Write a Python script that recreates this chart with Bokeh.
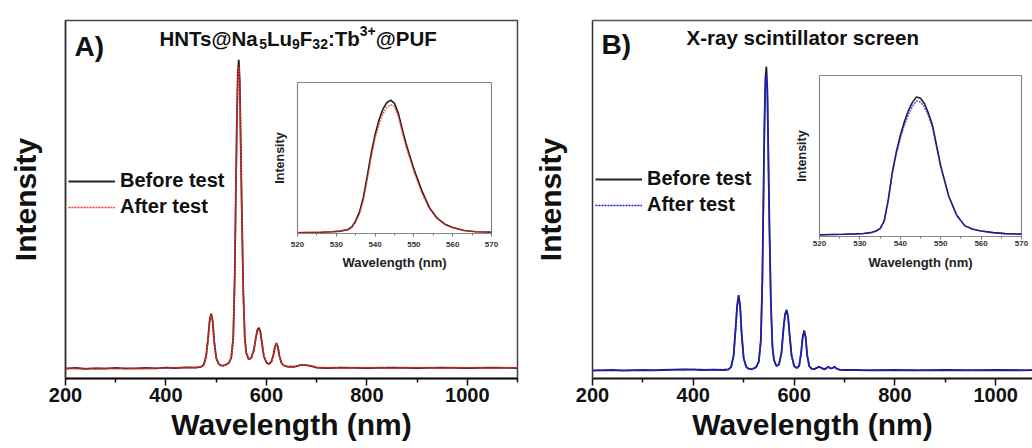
from bokeh.plotting import figure
from bokeh.models import Range1d, Legend, LegendItem, Label, LinearAxis, FixedTicker
from bokeh.layouts import row
from bokeh.embed import file_html
from bokeh.resources import INLINE

FONT = "Liberation Sans"

# ---------------- data (normalised intensity) ----------------
wavelength = [200, 220, 240, 260, 280, 300, 320, 340, 360, 380, 400, 420, 440, 460, 470, 475,
              480, 484, 487, 490, 493, 496, 500, 505, 510, 515, 520, 525, 530, 534, 537, 539,
              541, 543, 545, 547, 549, 551, 554, 557, 560, 565, 570, 575, 579, 582, 585, 588,
              591, 595, 600, 605, 610, 614, 617, 620, 623, 626, 630, 635, 640, 645, 650, 655,
              660, 665, 668, 672, 676, 680, 684, 690, 700, 720, 750, 800, 850, 900, 950, 1000,
              1050, 1100]

before_A = [0.000, 0.002, -0.001, 0.001, 0.000, 0.002, 0.000, 0.001, 0.002, 0.001, 0.003, 0.002,
            0.004, 0.003, 0.006, 0.012, 0.040, 0.100, 0.155, 0.178, 0.155, 0.090, 0.035, 0.015,
            0.010, 0.010, 0.013, 0.018, 0.035, 0.100, 0.300, 0.550, 0.780, 0.950, 1.000, 0.930,
            0.720, 0.520, 0.250, 0.100, 0.050, 0.030, 0.035, 0.060, 0.100, 0.125, 0.132, 0.120,
            0.085, 0.040, 0.020, 0.015, 0.022, 0.045, 0.070, 0.083, 0.070, 0.040, 0.018, 0.010,
            0.007, 0.006, 0.006, 0.006, 0.008, 0.010, 0.012, 0.012, 0.012, 0.011, 0.010, 0.008,
            0.003, 0.002, 0.003, 0.002, 0.003, 0.002, 0.003, 0.002, 0.003, 0.002]
after_A = [0.001, 0.001, 0.000, 0.002, 0.001, 0.001, 0.002, 0.000, 0.001, 0.002, 0.002, 0.003,
           0.003, 0.004, 0.006, 0.011, 0.038, 0.098, 0.152, 0.175, 0.152, 0.088, 0.034, 0.015,
           0.010, 0.010, 0.013, 0.018, 0.034, 0.098, 0.292, 0.535, 0.760, 0.930, 0.978, 0.910,
           0.705, 0.510, 0.245, 0.098, 0.050, 0.030, 0.034, 0.058, 0.098, 0.122, 0.128, 0.117,
           0.083, 0.040, 0.020, 0.015, 0.022, 0.044, 0.068, 0.081, 0.068, 0.039, 0.018, 0.010,
           0.007, 0.006, 0.006, 0.006, 0.008, 0.010, 0.012, 0.012, 0.012, 0.011, 0.010, 0.008,
           0.004, 0.003, 0.002, 0.003, 0.002, 0.003, 0.002, 0.003, 0.002, 0.003]

before_B = [0.000, 0.001, 0.002, 0.000, 0.001, 0.002, 0.001, 0.002, 0.003, 0.004, 0.003, 0.002,
            0.003, 0.002, 0.004, 0.012, 0.050, 0.140, 0.215, 0.248, 0.210, 0.120, 0.040, 0.012,
            0.006, 0.005, 0.007, 0.012, 0.030, 0.100, 0.300, 0.550, 0.800, 0.960, 1.000, 0.920,
            0.700, 0.480, 0.220, 0.080, 0.035, 0.015, 0.020, 0.060, 0.140, 0.185, 0.200, 0.180,
            0.120, 0.050, 0.015, 0.008, 0.015, 0.060, 0.110, 0.132, 0.110, 0.050, 0.015, 0.006,
            0.005, 0.009, 0.013, 0.008, 0.004, 0.009, 0.013, 0.007, 0.008, 0.013, 0.007, 0.003,
            0.002, 0.002, 0.001, 0.002, 0.001, 0.002, 0.001, 0.002, 0.001, 0.002]
after_B = [0.001, 0.002, 0.001, 0.001, 0.002, 0.001, 0.002, 0.001, 0.002, 0.003, 0.004, 0.003,
           0.002, 0.003, 0.004, 0.011, 0.048, 0.137, 0.211, 0.244, 0.206, 0.118, 0.039, 0.012,
           0.006, 0.005, 0.007, 0.012, 0.029, 0.097, 0.292, 0.535, 0.778, 0.935, 0.972, 0.895,
           0.682, 0.468, 0.215, 0.078, 0.035, 0.015, 0.020, 0.058, 0.137, 0.181, 0.196, 0.176,
           0.118, 0.049, 0.015, 0.008, 0.015, 0.059, 0.108, 0.129, 0.108, 0.049, 0.015, 0.006,
           0.005, 0.009, 0.012, 0.008, 0.004, 0.009, 0.012, 0.007, 0.008, 0.012, 0.007, 0.003,
           0.002, 0.001, 0.002, 0.001, 0.002, 0.001, 0.002, 0.001, 0.002, 0.001]

inset_wavelength = [520, 523, 526, 529, 531, 533, 534, 535, 536, 537, 538, 539, 540, 541, 542,
                    543, 544, 545, 546, 547, 548, 550, 552, 554, 556, 558, 560, 563, 566, 570]
inset_before_A = [0.000, 0.002, 0.004, 0.008, 0.013, 0.025, 0.045, 0.090, 0.160, 0.270, 0.430,
                  0.600, 0.740, 0.850, 0.930, 0.980, 1.000, 0.975, 0.900, 0.780, 0.670, 0.480,
                  0.320, 0.190, 0.110, 0.065, 0.040, 0.018, 0.008, 0.005]
inset_after_A = [0.002, 0.003, 0.005, 0.008, 0.012, 0.022, 0.040, 0.080, 0.145, 0.250, 0.405,
                 0.570, 0.710, 0.815, 0.895, 0.945, 0.965, 0.950, 0.875, 0.755, 0.645, 0.460,
                 0.305, 0.180, 0.105, 0.062, 0.038, 0.017, 0.008, 0.006]
inset_before_B = [0.000, 0.002, 0.004, 0.007, 0.010, 0.018, 0.028, 0.045, 0.100, 0.250, 0.450,
                  0.600, 0.720, 0.820, 0.900, 0.960, 1.000, 0.990, 0.950, 0.880, 0.790, 0.500,
                  0.280, 0.140, 0.065, 0.040, 0.028, 0.016, 0.009, 0.005]
inset_after_B = [0.001, 0.002, 0.004, 0.007, 0.010, 0.018, 0.028, 0.045, 0.098, 0.245, 0.440,
                 0.585, 0.700, 0.795, 0.872, 0.930, 0.970, 0.962, 0.925, 0.860, 0.772, 0.492,
                 0.276, 0.138, 0.064, 0.040, 0.028, 0.016, 0.009, 0.005]

main_ticks = [200, 400, 600, 800, 1000]
main_minor_ticks = [300, 500, 700, 900, 1100]
inset_ticks = [520, 530, 540, 550, 560, 570]
inset_minor_ticks = [525, 535, 545, 555, 565]

legend_labels = ["Before test", "After test"]

# Arial/Liberation Sans Bold advance widths (per 1000 em) for the title pieces
W = {"H": 722, "N": 722, "T": 611, "s": 556, "@": 975, "a": 556, "L": 611, "u": 611, "F": 611,
     ":": 333, "b": 611, "P": 667, "U": 722, "+": 584}
for d in "0123456789":
    W[d] = 556


def text_w(t, size):
    return sum(W.get(c, 600) for c in t) * size / 1000.0


def main_fig(width, xend, yr, left, right, top, ylab_standoff):
    p = figure(width=width, height=448, x_range=Range1d(200, xend), y_range=Range1d(*yr),
               output_backend="svg", toolbar_location=None, min_border_left=left,
               min_border_right=right, min_border_top=top, min_border_bottom=70)
    p.title.visible = False
    p.grid.visible = False
    p.background_fill_color = "white"
    p.border_fill_color = "white"
    xa = p.xaxis[0]
    xa.ticker = FixedTicker(ticks=main_ticks, minor_ticks=main_minor_ticks)
    xa.major_tick_out = 7
    xa.major_tick_in = 0
    xa.minor_tick_out = 4
    xa.minor_tick_in = 0
    xa.axis_line_width = 2
    xa.axis_line_color = "#111"
    xa.major_tick_line_width = 1.5
    xa.minor_tick_line_width = 1.5
    xa.major_tick_line_color = "#111"
    xa.minor_tick_line_color = "#111"
    xa.major_label_text_font = FONT
    xa.major_label_text_font_size = "20px"
    xa.major_label_text_font_style = "bold"
    xa.major_label_text_color = "#111"
    xa.major_label_standoff = 2
    xa.axis_label = "Wavelength (nm)"
    xa.axis_label_text_font = FONT
    xa.axis_label_text_font_size = "30px"
    xa.axis_label_text_font_style = "bold"
    xa.axis_label_text_color = "#111"
    xa.axis_label_standoff = 3
    ya = p.yaxis[0]
    ya.ticker = FixedTicker(ticks=[])
    ya.major_tick_out = 0
    ya.major_tick_in = 0
    ya.minor_tick_out = 0
    ya.minor_tick_in = 0
    ya.major_label_text_font_size = "0px"
    ya.axis_line_width = 1.5
    ya.axis_line_color = "#333"
    ya.axis_label = "Intensity"
    ya.axis_label_text_font = FONT
    ya.axis_label_text_font_size = "30px"
    ya.axis_label_text_font_style = "bold"
    ya.axis_label_text_color = "#111"
    ya.axis_label_standoff = ylab_standoff
    return p


def add_text(p, x, y, t, size, color="#111"):
    p.add_layout(Label(x=x, y=y, x_units="screen", y_units="screen", text=t, text_font=FONT,
                       text_font_size=f"{size}px", text_font_style="bold", text_color=color,
                       text_baseline="alphabetic", text_align="left"))


def add_legend(p, r1, r2, x, y):
    leg = Legend(items=[LegendItem(label=legend_labels[0], renderers=[r1]),
                        LegendItem(label=legend_labels[1], renderers=[r2])],
                 location=(x, y), padding=0, margin=0, spacing=3, glyph_width=47,
                 glyph_height=20, label_height=20, label_standoff=5,
                 label_text_font=FONT, label_text_font_size="20px",
                 label_text_font_style="bold", label_text_color="#111",
                 border_line_color=None, background_fill_alpha=0)
    p.add_layout(leg)


def inset_fig(fw, fh, yr, frame_left, frame_top, label_standoff, lab_standoff):
    p = figure(frame_width=fw, frame_height=fh, x_range=Range1d(520, 570),
               y_range=Range1d(*yr), output_backend="svg", toolbar_location=None,
               min_border_left=30, min_border_right=10, min_border_top=20, min_border_bottom=60,
               styles={"position": "absolute", "left": f"{frame_left - 30}px",
                       "top": f"{frame_top - 20}px"})
    p.title.visible = False
    p.grid.visible = False
    p.border_fill_alpha = 0
    p.background_fill_alpha = 0
    p.outline_line_color = "#888"
    p.outline_line_width = 1.2
    xa = p.xaxis[0]
    xa.ticker = FixedTicker(ticks=inset_ticks, minor_ticks=inset_minor_ticks)
    xa.major_tick_out = 3
    xa.major_tick_in = 0
    xa.minor_tick_out = 2
    xa.minor_tick_in = 0
    xa.axis_line_color = "#888"
    xa.major_tick_line_color = "#777"
    xa.minor_tick_line_color = "#777"
    xa.major_label_text_font = FONT
    xa.major_label_text_font_size = "8px"
    xa.major_label_text_font_style = "bold"
    xa.major_label_text_color = "#333"
    xa.major_label_standoff = label_standoff
    xa.axis_label = "Wavelength (nm)"
    xa.axis_label_text_font = FONT
    xa.axis_label_text_font_size = "13px"
    xa.axis_label_text_font_style = "bold"
    xa.axis_label_text_color = "#222"
    xa.axis_label_standoff = lab_standoff
    ya = p.yaxis[0]
    ya.ticker = FixedTicker(ticks=[])
    ya.major_tick_out = 0
    ya.minor_tick_out = 0
    ya.major_label_text_font_size = "0px"
    ya.axis_line_color = "#888"
    ya.axis_label = "Intensity"
    ya.axis_label_text_font = FONT
    ya.axis_label_text_font_size = "12.5px"
    ya.axis_label_text_font_style = "bold"
    ya.axis_label_text_color = "#222"
    ya.axis_label_standoff = 11
    return p


BLACK = "#222222"
RED = "#ff2a2a"
BLUE = "#1c1cff"

# ---------------- panel A ----------------
pA = main_fig(520, 1100, (-0.032, 1.127), 65, 3, 14, 24)
pA.outline_line_color = "#444"
pA.outline_line_width = 1.5
rA1 = pA.line(wavelength, before_A, line_color=BLACK, line_width=1.8)
rA2 = pA.line(wavelength, after_A, line_color=RED, line_width=1.6, line_dash="2 1")
add_legend(pA, rA1, rA2, 3, 160)
add_text(pA, 9, 332, "A)", 28)
title_pieces = [("HNTs@Na", "n"), ("5", "sub"), ("Lu", "n"), ("9", "sub"), ("F", "n"),
                ("32", "sub"), (":Tb", "n"), ("3+", "sup"), ("@PUF", "n")]
x = 94.0
for t, kind in title_pieces:
    size = 20.5 if kind == "n" else 14
    dy = 0 if kind == "n" else (-5 if kind == "sub" else 8)
    add_text(pA, x, 340 + dy, t, size)
    x += text_w(t, size)

# ---------------- panel B ----------------
pB = main_fig(512, 1073, (-0.026, 1.152), 72, 0, 14, 26)
pB.outline_line_color = None
top_axis = LinearAxis(ticker=FixedTicker(ticks=[]), major_tick_out=0, major_tick_in=0,
                      minor_tick_out=0, minor_tick_in=0, major_label_text_font_size="0px",
                      axis_line_color="#555", axis_line_width=1.5)
pB.add_layout(top_axis, "above")
rB1 = pB.line(wavelength, before_B, line_color=BLACK, line_width=1.8)
rB2 = pB.line(wavelength, after_B, line_color=BLUE, line_width=1.6, line_dash="2 1")
add_legend(pB, rB1, rB2, 3, 162)
add_text(pB, 9, 334, "B)", 28)
add_text(pB, 94, 341, "X-ray scintillator screen", 20.5)

# ---------------- insets ----------------
iA = inset_fig(194, 151, (-0.005, 1.1325), 297, 82, 5, 5)
iA.line(inset_wavelength, inset_before_A, line_color=BLACK, line_width=1.6)
iA.line(inset_wavelength, inset_after_A, line_color=RED, line_width=1.4, line_dash="2 1", line_alpha=0.8)

iB = inset_fig(202, 161, (-0.012, 1.155), 819, 75, 1, 6)
iB.line(inset_wavelength, inset_before_B, line_color=BLACK, line_width=1.6)
iB.line(inset_wavelength, inset_after_B, line_color=BLUE, line_width=1.4, line_dash="2 1", line_alpha=0.8)

layout = row(pA, pB, iA, iB, spacing=0)
open("out.html", "w").write(file_html(layout, INLINE))
